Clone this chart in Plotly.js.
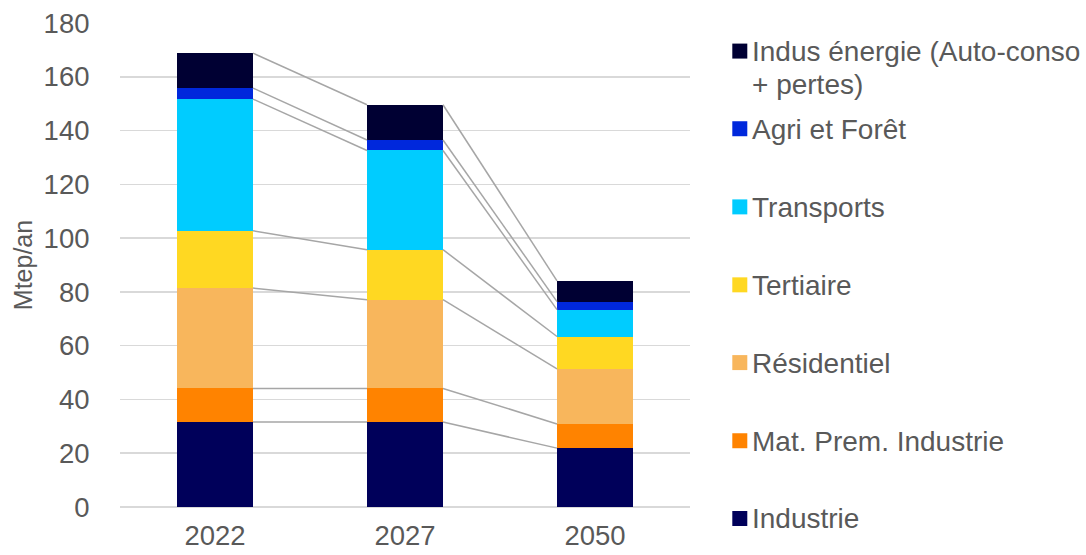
<!DOCTYPE html>
<html><head><meta charset="utf-8">
<script src="https://cdn.plot.ly/plotly-3.0.1.min.js"></script>
<style>body{margin:0;background:#fff}#c{width:1086px;height:555px}</style>
</head><body><div id="c"></div>
<script>
const years = ['2022', '2027', '2050'];
const seriesNames = ['Industrie', 'Mat. Prem. Industrie', 'Résidentiel', 'Tertiaire', 'Transports', 'Agri et Forêt', 'Indus énergie (Auto-conso<br>+ pertes)'];
const industrie = [31.6, 31.6, 21.9];
const matPrem = [12.5, 12.5, 9.0];
const residentiel = [37.3, 33.0, 20.5];
const tertiaire = [21.3, 18.6, 12.0];
const transports = [49.0, 36.9, 10.0];
const agri = [4.1, 3.9, 3.0];
const indusEnergie = [13.0, 13.1, 7.7];
const yTicks = [0, 20, 40, 60, 80, 100, 120, 140, 160, 180];

const seriesValues = [industrie, matPrem, residentiel, tertiaire, transports, agri, indusEnergie];
const colors = ['#00005A', '#FF8300', '#F8B65C', '#FFD822', '#00CCFF', '#0028DC', '#000033'];
const xs = years.map((_, i) => i);
const barW = 0.4;
const FONT = 'Liberation Sans, Arial, sans-serif';
const GREY = '#595959';

const traces = [];
seriesValues.forEach((vals, k) => {
  traces.push({type: 'bar', x: xs, y: vals, width: barW, name: seriesNames[k],
    marker: {color: colors[k], line: {width: 0}}, showlegend: false, hoverinfo: 'y+name'});
});
// connector lines at cumulative tops
const cum = years.map(() => 0);
seriesValues.forEach((vals) => {
  vals.forEach((v, i) => cum[i] += v);
  const lx = [], ly = [];
  for (let i = 0; i < years.length - 1; i++) {
    lx.push(i + barW / 2, i + 1 - barW / 2, null);
    ly.push(cum[i], cum[i + 1], null);
  }
  traces.push({type: 'scatter', mode: 'lines', x: lx, y: ly, line: {color: '#A6A6A6', width: 1.5},
    showlegend: false, hoverinfo: 'skip'});
});

// manual legend (pixel -> paper conversion)
const PL = 120, PW = 570, PB = 507, PH = 507 - 22.7;
const px = (x) => (x - PL) / PW;
const py = (y) => (PB - y) / PH;
const legendY = [50.8, 128.5, 206.7, 284.7, 362.5, 440.7, 518.5];
const order = [6, 5, 4, 3, 2, 1, 0];
const shapes = [], annotations = [];
order.forEach((k, j) => {
  const yc = legendY[j];
  shapes.push({type: 'rect', xref: 'paper', yref: 'paper',
    x0: px(732.3), x1: px(747.3), y0: py(yc + 7.5), y1: py(yc - 7.5),
    fillcolor: colors[k], line: {width: 0}});
  seriesNames[k].split('<br>').forEach((line, li) => {
    annotations.push({xref: 'paper', yref: 'paper', x: px(750), y: py(yc + 0.5 + li * 32.5),
      xanchor: 'left', yanchor: 'middle', align: 'left', showarrow: false,
      text: line, font: {family: FONT, size: 28, color: GREY}});
  });
});

const layout = {
  width: 1086, height: 555,
  margin: {l: PL, r: 1086 - PL - PW, t: 22.7, b: 555 - PB},
  paper_bgcolor: '#fff', plot_bgcolor: '#fff',
  barmode: 'stack',
  font: {family: FONT, size: 28, color: GREY},
  xaxis: {range: [-0.5, 2.5], tickvals: xs, ticktext: years, showgrid: false, zeroline: false,
    showline: false, ticks: 'outside', ticklen: 4, tickcolor: 'rgba(0,0,0,0)',
    tickfont: {family: FONT, size: 27.5, color: GREY}, fixedrange: true},
  yaxis: {range: [0, 180], tickvals: yTicks, showgrid: true, gridcolor: '#D9D9D9', gridwidth: 1.5,
    zeroline: true, zerolinecolor: '#D9D9D9', zerolinewidth: 1.5, showline: false,
    ticks: 'outside', ticklen: 24, tickcolor: 'rgba(0,0,0,0)',
    tickfont: {family: FONT, size: 27.5, color: GREY},
    title: {text: 'Mtep/an', font: {family: FONT, size: 25, color: GREY}, standoff: 3}, fixedrange: true},
  shapes: shapes, annotations: annotations,
  showlegend: false
};
Plotly.newPlot('c', traces, layout, {displayModeBar: false, staticPlot: true});
</script></body></html>
